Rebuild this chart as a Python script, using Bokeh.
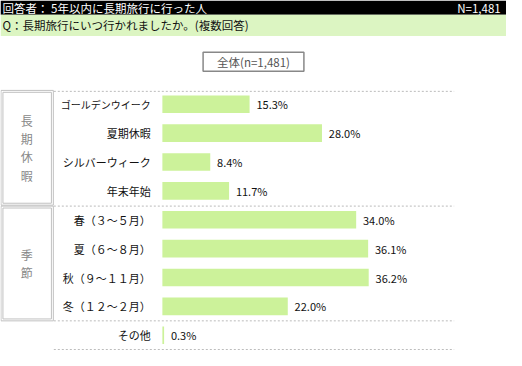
from bokeh.plotting import figure
from bokeh.models import Range1d, ColumnDataSource
from bokeh.core.properties import value
from bokeh.embed import file_html
from bokeh.resources import INLINE

# ---- data ----
categories = ["ゴールデンウイーク", "夏期休暇", "シルバーウィーク", "年末年始",
              "春（３～５月）", "夏（６～８月）", "秋（９～１１月）", "冬（１２～２月）", "その他"]
values = [15.3, 28.0, 8.4, 11.7, 34.0, 36.1, 36.2, 22.0, 0.3]
value_labels = ["15.3%", "28.0%", "8.4%", "11.7%", "34.0%", "36.1%", "36.2%", "22.0%", "0.3%"]
group_names = ["長期休暇", "季節"]
group_rows = [(0, 3), (4, 7)]
header_title = "回答者： 5年以内に長期旅行に行った人"
header_n = "N=1,481"
question = "Q：長期旅行にいつ行かれましたか。(複数回答)"
total_label = "全体(n=1,481)"

FONT = value("Noto Sans CJK JP")
BAR = "#ccf29a"

# layout helpers (reference pixel -> data units)
PX_PER_PCT = 5.88
X0 = 167.0
ROW0 = 108.5
ROW_H = 30.2

def rx(px):
    return (px - X0) / PX_PER_PCT

def ry(py):
    return (py - ROW0) / ROW_H

p = figure(width=506, height=350, output_backend="svg", toolbar_location=None,
           x_range=Range1d(rx(0), rx(522)), y_range=Range1d(ry(366), ry(0)),
           min_border=0, tools="")
p.axis.visible = False
p.grid.visible = False
p.outline_line_color = None
p.background_fill_color = "white"
p.border_fill_color = "white"

# header bars
p.quad(left=[rx(0)], right=[rx(522)], top=[ry(0)], bottom=[ry(15)],
       fill_color="black", line_color=None)
p.quad(left=[rx(0)], right=[rx(522)], top=[ry(15)], bottom=[ry(37)],
       fill_color="#dcf5c2", line_color=None)
p.text(x=[rx(2)], y=[ry(7.5)], text=[header_title], text_color="white",
       text_font=FONT, text_font_size="11.5px", text_baseline="middle", text_align="left")
p.text(x=[rx(516)], y=[ry(7.5)], text=[header_n], text_color="white",
       text_font=FONT, text_font_size="11.5px", text_baseline="middle", text_align="right")
p.text(x=[rx(2)], y=[ry(26)], text=[question], text_color="#111111",
       text_font=FONT, text_font_size="11.5px", text_baseline="middle", text_align="left")

# total box
p.quad(left=[rx(209)], right=[rx(313)], top=[ry(54)], bottom=[ry(74)],
       fill_color="white", line_color="#888888", line_width=1.5)
p.text(x=[rx(261)], y=[ry(64)], text=[total_label], text_color="#555555",
       text_font=FONT, text_font_size="11.5px", text_baseline="middle", text_align="center")

# dashed separators
for yy in [95, 215, 335, 365]:
    p.segment(x0=[rx(55)], x1=[rx(468)], y0=[ry(yy)], y1=[ry(yy)],
              line_color="#bbbbbb", line_width=1, line_dash="2 2")

# group boxes (double border)
box_px = [(94, 214), (215, 335)]
for name, (top, bot) in zip(group_names, box_px):
    p.quad(left=[rx(0.5)], right=[rx(54.5)], top=[ry(top)], bottom=[ry(bot)],
           fill_color=None, line_color="#c0c0c0", line_width=1)
    p.quad(left=[rx(2.5)], right=[rx(52.5)], top=[ry(top + 2)], bottom=[ry(bot - 2)],
           fill_color=None, line_color="#c0c0c0", line_width=1)
    n = len(name)
    mid = (top + bot) / 2
    step = 19.0
    ys = [ry(mid + (k - (n - 1) / 2) * step) for k in range(n)]
    p.text(x=[rx(27)] * n, y=ys, text=list(name), text_color="#888888",
           text_font=FONT, text_font_size="12px", text_baseline="middle", text_align="center")

rows = list(range(len(categories)))
sizes = ["10px" if len(c) > 8 else "11px" for c in categories]
src = ColumnDataSource(dict(y=rows, v=values, cat=categories, lab=value_labels, fs=sizes,
                            lx=[v + 1.2 for v in values], cx=[rx(155)] * len(rows)))

p.hbar(y="y", left=0, right="v", height=0.61, source=src, fill_color=BAR, line_color=None)
p.text(x="cx", y="y", text="cat", source=src, text_color="#111111", text_font=FONT,
       text_font_size="fs", text_baseline="middle", text_align="right")
p.text(x="lx", y="y", text="lab", source=src, text_color="#111111", text_font=FONT,
       text_font_size="11px", text_baseline="middle", text_align="left")

open("out.html", "w").write(file_html(p, INLINE))
